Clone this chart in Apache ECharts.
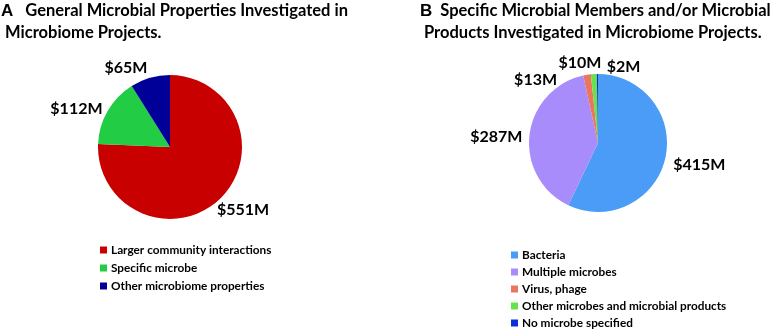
<!DOCTYPE html>
<html>
<head>
<meta charset="utf-8">
<script src="https://cdn.jsdelivr.net/npm/echarts@6/dist/echarts.min.js"></script>
<style>
  html, body { margin: 0; padding: 0; background: #fff; }
  #chart { width: 778px; height: 330px; }
</style>
</head>
<body>
<div id="chart"></div>
<script>
// Panel A: general microbial properties ($M)
const propNames = ["Larger community interactions", "Specific microbe", "Other microbiome properties"];
const propValues = [551, 112, 65];
const propColors = ["#c80000", "#22cc44", "#000099"];

// Panel B: specific microbial members / products ($M)
const memberNames = ["Bacteria", "Multiple microbes", "Virus, phage", "Other microbes and microbial products", "No microbe specified"];
const memberValues = [415, 287, 13, 10, 2];
const memberColors = ["#4a9cf6", "#a98cfb", "#ec7560", "#66e24e", "#0b2fd6"];

const titleA = ["General Microbial Properties Investigated in", "Microbiome Projects."];
const titleB = ["Specific Microbial Members and/or Microbial", "Products Investigated in Microbiome Projects."];

const FONT = "Lato, 'Open Sans', sans-serif";

const sum = arr => arr.reduce((a, b) => a + b, 0);

const chart = echarts.init(document.getElementById("chart"));

// small label nudges so the outside labels sit like the original
const labelNudgeA = { 0: [-12, 7], 1: [5, 1], 2: [4, -4] };
const labelNudgeB = { 0: [-3, 5], 1: [4, 2], 2: [-24, 11], 3: [13, -5], 4: [48, -1] };

function pieSeries(names, values, colors, center, radius, nudge) {
  return {
    type: "pie",
    center: center,
    radius: radius,
    startAngle: 90,
    clockwise: true,
    avoidLabelOverlap: false,
    silent: true,
    label: {
      show: true,
      position: "outside",
      formatter: "${c}M",
      color: "#000",
      fontFamily: FONT,
      fontWeight: "bold",
      fontSize: 16
    },
    labelLine: { show: false, length: 6, length2: 0 },
    labelLayout: function (p) {
      const n = nudge[p.dataIndex];
      return n ? { dx: n[0], dy: n[1] } : {};
    },
    data: names.map((n, i) => ({ name: n, value: values[i], itemStyle: { color: colors[i] } }))
  };
}

const titleRich = {
  a: { fontFamily: "'Liberation Sans', Arial, sans-serif", fontSize: 17, color: "#000" },
  t: { fontFamily: FONT, fontWeight: "bold", fontSize: 16.5, color: "#000", lineHeight: 22 }
};

const legendText = { fontFamily: FONT, fontWeight: "bold", fontSize: 11.8, color: "#000", lineHeight: 12, padding: [0, 0, 0, -1] };

const option = {
  animation: false,
  title: [
    {
      left: 1, top: 0, padding: 0,
      text: "{a|A}{t|   " + titleA[0] + "}\n{t| " + titleA[1] + "}",
      textStyle: { rich: titleRich }
    },
    {
      left: 420, top: 0, padding: 0,
      text: "{a|B}{t|  " + titleB[0] + "}\n{t| " + titleB[1] + "}",
      textStyle: { rich: titleRich }
    }
  ],
  legend: [
    {
      data: propNames,
      orient: "vertical",
      left: 95, top: 239, height: 100,
      icon: "rect",
      itemWidth: 7, itemHeight: 7,
      itemGap: 6,
      selectedMode: false,
      textStyle: legendText
    },
    {
      data: memberNames,
      orient: "vertical",
      left: 506, top: 244, height: 100,
      icon: "rect",
      itemWidth: 7, itemHeight: 7,
      itemGap: 5,
      selectedMode: false,
      textStyle: legendText
    }
  ],
  graphic: [
    {
      type: "text", x: 168, y: 146,
      style: { text: "$" + sum(propValues) + "M", fill: "#fff", font: "bold 17px " + FONT, align: "center", verticalAlign: "middle" }
    },
    {
      type: "text", x: 597, y: 146,
      style: { text: "$" + sum(memberValues) + "M", fill: "#fff", font: "bold 17px " + FONT, align: "center", verticalAlign: "middle" }
    }
  ],
  series: [
    pieSeries(propNames, propValues, propColors, [170, 147], 72, labelNudgeA),
    pieSeries(memberNames, memberValues, memberColors, [598, 143], 69, labelNudgeB)
  ]
};

chart.setOption(option);
</script>
</body>
</html>
